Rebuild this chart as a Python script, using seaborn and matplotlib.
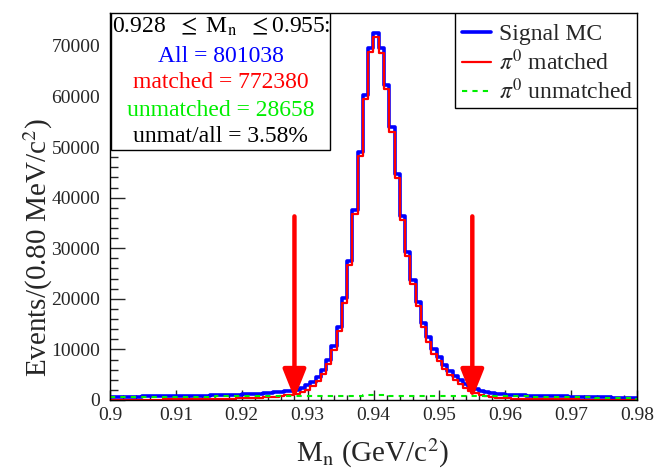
import numpy as np
import pandas as pd
import seaborn as sns
import matplotlib
matplotlib.use("Agg")
import matplotlib.pyplot as plt
from matplotlib.patches import Rectangle
from matplotlib.ticker import MultipleLocator, FuncFormatter

# ---------------- data ----------------
x_lo, x_hi, n_bins = 0.9, 0.98, 100

all_counts = [
    640, 650, 660, 670, 680, 690, 700, 710, 720, 730,
    745, 760, 775, 790, 805, 820, 840, 860, 880, 900,
    925, 950, 980, 1010, 1050, 1090, 1140, 1190, 1250, 1320,
    1400, 1490, 1600, 1720, 1850, 2050, 2400, 2900, 3600, 4600,
    5900, 7900, 10700, 14500, 20100, 27500, 37600, 49100, 60300, 69600,
    72600, 69500, 62300, 53900, 44700, 36400, 29300, 23700, 19400, 15300,
    12400, 10000, 8500, 6900, 5700, 4700, 3900, 3200, 2600, 2150,
    1850, 1600, 1400, 1250, 1120, 1050, 990, 940, 900, 870,
    840, 810, 790, 770, 750, 730, 710, 690, 670, 650,
    620, 590, 560, 530, 500, 470, 440, 400, 360, 320]

matched_counts = [
    50, 55, 60, 65, 70, 75, 80, 85, 90, 95,
    105, 115, 125, 135, 145, 155, 170, 185, 200, 210,
    225, 240, 260, 280, 310, 340, 380, 420, 470, 530,
    600, 685, 790, 905, 1030, 1225, 1570, 2065, 2760, 3755,
    5050, 7045, 9840, 13635, 19230, 26625, 36720, 48215, 59410, 68705,
    71700, 68605, 61410, 53015, 43820, 35525, 28430, 22835, 18540, 14445,
    11550, 9155, 7660, 6065, 4870, 3875, 3080, 2385, 1790, 1350,
    1060, 820, 630, 490, 370, 310, 260, 220, 190, 170,
    150, 140, 140, 130, 120, 115, 110, 105, 100, 95,
    85, 80, 75, 70, 65, 60, 55, 50, 45, 40]

unmatched_counts = [
    590, 595, 600, 605, 610, 615, 620, 625, 630, 635,
    640, 645, 650, 655, 660, 665, 670, 675, 680, 690,
    700, 710, 720, 730, 740, 750, 760, 770, 780, 790,
    800, 805, 810, 815, 820, 825, 830, 835, 840, 845,
    850, 855, 860, 865, 870, 875, 880, 885, 890, 895,
    900, 895, 890, 885, 880, 875, 870, 865, 860, 855,
    850, 845, 840, 835, 830, 825, 820, 815, 810, 800,
    790, 780, 770, 760, 750, 740, 730, 720, 710, 700,
    690, 670, 650, 640, 630, 615, 600, 585, 570, 555,
    535, 510, 485, 460, 435, 410, 385, 350, 315, 280]

window_lo, window_hi = 0.928, 0.955
arrow_top = 36300
y_max = 76500

series_names = ["Signal MC", r"$\pi^{0}$ matched", r"$\pi^{0}$ unmatched"]
box_lines = [
    r"0.928  $\leq$ M$_{\rm n}$  $\leq$0.955:",
    "All = 801038",
    "matched = 772380",
    "unmatched = 28658",
    "unmat/all = 3.58%",
]
box_colors = ["black", "#0000ff", "#ff0000", "#00ee00", "black"]

x_label = r"M$_{\rm n}$ (GeV/c$^{2}$)"
y_label = r"Events/(0.80 MeV/c$^{2}$)"

# ---------------- table ----------------
edges = np.linspace(x_lo, x_hi, n_bins + 1)
centers = 0.5 * (edges[:-1] + edges[1:])
df = pd.DataFrame({"mass": centers, "all": all_counts,
                   "matched": matched_counts, "unmatched": unmatched_counts})

# ---------------- style ----------------
sns.set_style("ticks")
plt.rcParams["font.family"] = ["Liberation Serif", "DejaVu Serif"]
plt.rcParams["mathtext.fontset"] = "stix"

fig = plt.figure(figsize=(6.58, 4.71), dpi=100)
ax = fig.add_axes([110 / 658, 1 - 400 / 471, 527 / 658, 387 / 471])

common = dict(x="mass", bins=n_bins, binrange=(x_lo, x_hi),
              element="step", fill=False, ax=ax)
sns.histplot(data=df, weights="all", color="#0000ff", linewidth=2.6, **common)
sns.histplot(data=df, weights="matched", color="#ff0000", linewidth=1.6, **common)
sns.histplot(data=df, weights="unmatched", color="#00ee00", linewidth=1.5,
             linestyle=(0, (2.5, 2.5)), **common)

lines = ax.get_lines()[:3]

ax.set_xlim(x_lo, x_hi)
ax.set_ylim(0, y_max)
ax.set_xlabel("")
ax.set_ylabel("")

# arrows
for xv in (window_lo, window_hi):
    ax.annotate("", xy=(xv, 300), xytext=(xv, arrow_top),
                arrowprops=dict(arrowstyle="-|>,head_length=0.8,head_width=0.32",
                                color="#ff0000", lw=3.2, mutation_scale=22,
                                shrinkA=0, shrinkB=0))

# ticks
ax.xaxis.set_major_locator(MultipleLocator(0.01))
ax.xaxis.set_minor_locator(MultipleLocator(0.002))
ax.yaxis.set_major_locator(MultipleLocator(10000))
ax.yaxis.set_minor_locator(MultipleLocator(2000))
ax.xaxis.set_major_formatter(FuncFormatter(lambda v, p: f"{v:g}"))
ax.yaxis.set_major_formatter(FuncFormatter(lambda v, p: f"{int(round(v))}"))
ax.tick_params(axis="x", which="major", direction="in", length=7.5, width=1,
               labelsize=14, pad=5)
ax.tick_params(axis="x", which="minor", direction="in", length=3.8, width=1)
ax.tick_params(axis="y", which="major", direction="in", length=11, width=1,
               labelsize=14, pad=7)
ax.tick_params(axis="y", which="minor", direction="in", length=5.5, width=1)
for s in ax.spines.values():
    s.set_visible(True)
    s.set_color("black")
    s.set_linewidth(1)

# labels
fig.text(38 / 658, 1 - 248 / 471, y_label, rotation=90, ha="center",
         va="center", fontsize=21)
fig.text(373 / 658, 1 - 453 / 471, x_label, ha="center", va="center",
         fontsize=21)

# info box
bx0, bx1 = 0.002, (330 - 110) / 527
by0, by1 = (400 - 150) / 387, 1.0
ax.add_patch(Rectangle((bx0, by0), bx1 - bx0, by1 - by0, transform=ax.transAxes,
                       facecolor="white", edgecolor="black", lw=1, zorder=5))
line_y = [27, 56, 83, 110, 137]
for txt, col, yy in zip(box_lines, box_colors, line_y):
    ax.text((bx0 + bx1) / 2, (400 - yy) / 387, txt, color=col, fontsize=17,
            ha="center", va="center", transform=ax.transAxes, zorder=6)

# legend (frame drawn as its own box)
lx0, lx1 = (455 - 110) / 527, 1.0
ly0, ly1 = (400 - 108) / 387, 1.0
ax.add_patch(Rectangle((lx0, ly0), lx1 - lx0, ly1 - ly0, transform=ax.transAxes,
                       facecolor="white", edgecolor="black", lw=1, zorder=6))
leg = ax.legend(lines, series_names, loc="upper right",
                bbox_to_anchor=(1.0 + 2 / 527, 1.0 - 5 / 387),
                borderaxespad=0, frameon=False,
                fontsize=17, handlelength=1.2, handletextpad=0.35,
                borderpad=0.25, labelspacing=0.17)
leg.set_zorder(7)

fig.savefig("out.png", dpi=100)
